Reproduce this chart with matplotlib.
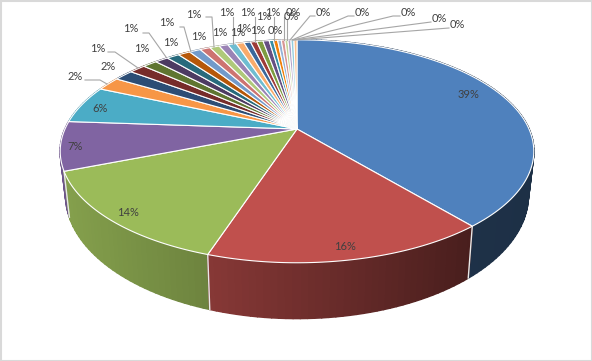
import numpy as np
import matplotlib
matplotlib.use("Agg")
import matplotlib.pyplot as plt
from matplotlib.collections import PolyCollection
from matplotlib.colors import to_rgb
from matplotlib.patches import Polygon, Rectangle

# share of each slice, clockwise from 12 o'clock
values = [39.0, 16.1, 14.0, 7.1, 5.5, 2.0, 1.6,
          1.35, 1.2, 1.1, 1.05, 1.0, 0.95, 0.85, 0.8, 0.75, 0.7, 0.65,
          0.55, 0.52, 0.52, 0.51,
          0.35, 0.35, 0.3, 0.3, 0.25, 0.25, 0.25, 0.25]

colors = ['#4f81bd', '#c0504d', '#9bbb59', '#8064a2', '#4bacc6', '#f79646',
          '#2c4d75', '#772c2a', '#5f7530', '#4d3b62', '#276a7c', '#b65708',
          '#729aca', '#cd7371', '#afc97a', '#9a83b5', '#6fbdd1', '#f9ab6b',
          '#3a679c', '#9e3a38', '#7e9c40', '#664f82', '#358ea6', '#f07f09',
          '#95b3d7', '#d99694', '#c3d69b', '#b3a2c7', '#93cddd', '#fac090']

# label centres in pixels, same order as values
label_x = [469, 345, 128, 75, 100, 75, 108, 98, 142, 131, 171, 167, 199, 194, 220,
           227, 238, 244, 248, 258, 264, 273, 275, 291, 293, 323, 362, 408, 439, 457]
label_y = [95, 247, 213, 146, 109, 77, 67, 48, 49, 29, 42, 23, 36, 14, 32,
           12, 33, 28, 12, 30, 16, 12, 31, 17, 13, 12, 12, 12, 18, 25]

# leader lines for the outer labels
leaders = [[(85, 80), (100, 80), (107, 84)],
           [(108, 52), (115, 52), (138, 68)],
           [(143, 33), (149, 33), (166, 57)],
           [(180, 27), (184, 27), (191, 52)],
           [(206, 17), (212, 17), (214, 47)],
           [(233, 17), (233, 44)],
           [(255, 17), (255, 42)],
           [(274, 17), (274, 41)],
           [(284, 17), (284, 40)],
           [(287, 20), (287, 40)],
           [(315, 16), (310, 16), (290, 40)],
           [(354, 16), (348, 16), (292, 40)],
           [(400, 16), (393, 16), (293, 40)],
           [(431, 22), (293, 40)],
           [(449, 28), (295, 40)]]

# perspective of the disc, fitted to the picture
CX, CY = 297, 129
SX, SY = 232, 107
K = 0.2
# bottom rim relative to the top rim
RIM_SX, RIM_SY, RIM_D = 0.977, 1.108, 41.3


def top_rim(theta):
    u, v = np.sin(theta), np.cos(theta)
    w = 1 + K * v
    return SX * u / w, -SY * v / w


def to_top(theta):
    x, y = top_rim(theta)
    return np.column_stack([CX + x, CY + y])


def to_bottom(theta):
    x, y = top_rim(theta)
    return np.column_stack([CX + x * RIM_SX, CY + y * RIM_SY + RIM_D])


def side_shade(x):
    return np.interp(x, [60, 210, 470, 535], [0.86, 0.70, 0.38, 0.37])


fig = plt.figure(figsize=(5.92, 3.61), dpi=100)
ax = fig.add_axes([0, 0, 1, 1])
ax.set_xlim(0, 592)
ax.set_ylim(361, 0)
ax.axis('off')

edges = np.concatenate([[0], np.cumsum(values)]) / np.sum(values) * 2 * np.pi

# side wall, far facets first
polys, facecols, depth = [], [], []
for i, col in enumerate(colors):
    n = max(int((edges[i + 1] - edges[i]) / 0.025), 1)
    th = np.linspace(edges[i], edges[i + 1], n + 1)
    top, bot = to_top(th), to_bottom(th)
    for j in range(n):
        polys.append([top[j], top[j + 1], bot[j + 1], bot[j]])
        shade = side_shade((top[j][0] + top[j + 1][0]) / 2)
        facecols.append(tuple(np.array(to_rgb(col)) * shade))
        depth.append(np.cos(th[j]))
order = np.argsort(depth)[::-1]
ax.add_collection(PolyCollection([polys[i] for i in order],
                                 facecolors=[facecols[i] for i in order],
                                 edgecolors=[facecols[i] for i in order],
                                 linewidths=1.2, zorder=1))

# white seams on the visible part of the wall
for th in edges[:-1]:
    if np.cos(th) < -0.05:
        a = to_top(np.array([th]))[0]
        b = to_bottom(np.array([th]))[0]
        ax.plot([a[0], b[0]], [a[1], b[1]], color='#e8e8e8', lw=1, zorder=2)

# top face
for i, col in enumerate(colors):
    n = max(int((edges[i + 1] - edges[i]) / 0.01), 2)
    rim = to_top(np.linspace(edges[i], edges[i + 1], n + 1))
    pts = np.vstack([[CX, CY], rim])
    ax.add_patch(Polygon(pts, closed=True, facecolor=col, edgecolor='white',
                         lw=0.8, joinstyle='round', zorder=3))

for pts in leaders:
    xs, ys = zip(*pts)
    ax.plot(xs, ys, color='#a6a6a6', lw=0.8, zorder=4)

for v, x, y in zip(values, label_x, label_y):
    ax.text(x, y, f"{v:.0f}%", ha='center', va='center', fontsize=8,
            family='Lato', color='#404040', zorder=5)

# chart frame
ax.add_patch(Rectangle((0.5, 0.5), 591, 360, fill=False, edgecolor='#d9d9d9',
                       lw=1.5, zorder=6))

fig.savefig('out.png', dpi=100)
